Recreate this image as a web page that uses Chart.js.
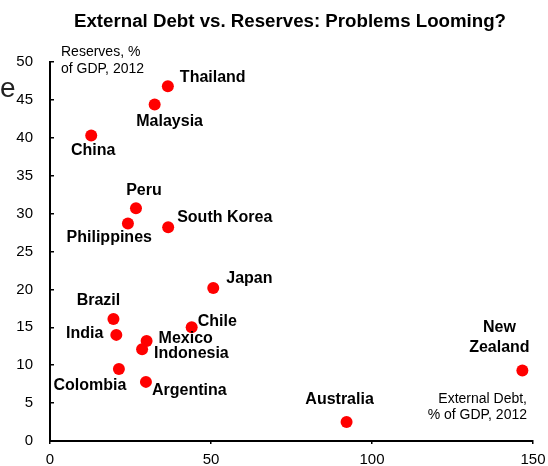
<!DOCTYPE html>
<html>
<head>
<meta charset="utf-8">
<script src="https://cdn.jsdelivr.net/npm/chart.js@4/dist/chart.umd.min.js"></script>
<style>
  html, body { margin: 0; padding: 0; background: #fff; }
  #wrap { width: 548px; height: 466px; }
</style>
</head>
<body>
<div id="wrap"><canvas id="debtChart" width="548" height="466"></canvas></div>
<script>
const countries = ['Thailand', 'Malaysia', 'China', 'Peru', 'Philippines', 'South Korea', 'Japan', 'Brazil',
    'India', 'Chile', 'Mexico', 'Indonesia', 'Colombia', 'Argentina', 'Australia', 'New Zealand'];
// external debt, % of GDP (x)
const extDebt = [36.6, 32.5, 12.8, 26.7, 24.2, 36.7, 50.7, 19.7, 20.6, 44.0, 30.0, 28.6, 21.4, 29.8, 92.1, 146.7];
// reserves, % of GDP (y)
const reserves = [46.8, 44.4, 40.3, 30.7, 28.7, 28.2, 20.2, 16.1, 14.0, 15.0, 13.2, 12.1, 9.5, 7.8, 2.5, 9.3];

const xTicks = [0, 50, 100, 150];
const yTicks = [0, 5, 10, 15, 20, 25, 30, 35, 40, 45, 50];

const titleText = 'External Debt vs. Reserves: Problems Looming?';
const yNote = ['Reserves, %', 'of GDP, 2012'];
const xNote = ['External Debt,', '% of GDP, 2012'];

// where each name sits next to its dot: [align, dx, dy]
const labelPos = [
    ['left', 12, -9], ['center', 15, 17], ['center', 2, 15], ['center', 8, -18],
    ['right', 24, 14], ['left', 9, -10], ['left', 13, -9], ['center', -15, -18],
    ['right', -13, -1], ['left', 6, -6], ['left', 12, -2], ['left', 12, 4],
    ['center', -29, 17], ['left', 6, 9], ['center', -7, -22], ['center', -23, -43]
];

const pts = extDebt.map((x, i) => ({ x: x, y: reserves[i] }));

// text drawn on top: title, axis notes, country names
const textPlugin = {
    id: 'texts',
    afterDraw(chart) {
        let ctx = chart.ctx;
        ctx.save();
        ctx.fillStyle = '#000';
        ctx.textBaseline = 'middle';

        ctx.font = 'bold 18.7px "Liberation Sans", Arial, sans-serif';
        ctx.textAlign = 'center';
        ctx.fillText(titleText, 290, 22);

        ctx.font = '14px "Liberation Sans", Arial, sans-serif';
        ctx.textAlign = 'left';
        ctx.fillText(yNote[0], 61, 52.5);
        ctx.fillText(yNote[1], 61, 69);
        ctx.textAlign = 'right';
        ctx.fillText(xNote[0], 527, 399);
        ctx.fillText(xNote[1], 527, 415.5);

        // leftover letter at the left edge
        ctx.fillStyle = '#222';
        ctx.font = '28px "Liberation Sans", Arial, sans-serif';
        ctx.textAlign = 'left';
        ctx.textBaseline = 'alphabetic';
        ctx.fillText('e', 0, 97);

        ctx.fillStyle = '#000';
        ctx.textBaseline = 'middle';
        ctx.font = 'bold 16px "Liberation Sans", Arial, sans-serif';
        let meta = chart.getDatasetMeta(0);
        meta.data.forEach((pt, i) => {
            let [align, dx, dy] = labelPos[i];
            ctx.textAlign = align;
            let name = countries[i];
            if (name === 'New Zealand') {
                ctx.fillText('New', pt.x + dx, pt.y + dy);
                ctx.fillText('Zealand', pt.x + dx, pt.y + dy + 20);
            } else {
                ctx.fillText(name, pt.x + dx, pt.y + dy);
            }
        });
        ctx.restore();
    }
};

const tickFont = { family: '"Liberation Sans", Arial, sans-serif', size: 15 };

// keep the label overhang from shrinking the plot area
const noPad = scale => {
    scale.paddingTop = 0;
    scale.paddingBottom = 0;
    scale.paddingLeft = 0;
    scale.paddingRight = 0;
};

let config = {
    type: 'scatter',
    data: {
        datasets: [{
            data: pts,
            backgroundColor: '#ff0000',
            borderWidth: 0,
            pointRadius: 6,
            pointHoverRadius: 6
        }]
    },
    options: {
        responsive: false,
        animation: false,
        events: [],
        layout: { padding: { top: 62, right: 15, left: 0, bottom: 0 } },
        plugins: { legend: { display: false }, tooltip: { enabled: false } },
        scales: {
            x: {
                type: 'linear',
                min: 0, max: 150,
                afterFit: scale => { scale.height = 25; noPad(scale); },
                afterBuildTicks: scale => { scale.ticks = xTicks.map(v => ({ value: v })); },
                border: { display: true, color: '#000', width: 2 },
                grid: { drawOnChartArea: false, drawTicks: true, tickLength: 3, color: '#000', lineWidth: 1.5 },
                ticks: { color: '#000', font: tickFont, padding: 7, maxRotation: 0 }
            },
            y: {
                type: 'linear',
                min: 0, max: 50,
                afterFit: scale => { scale.width = 50; noPad(scale); },
                afterBuildTicks: scale => { scale.ticks = yTicks.map(v => ({ value: v })); },
                border: { display: true, color: '#000', width: 2 },
                grid: { drawOnChartArea: false, drawTicks: true, tickLength: -4, color: '#000', lineWidth: 1.5 },
                ticks: { color: '#000', font: tickFont, padding: 21 }
            }
        }
    },
    plugins: [textPlugin]
};

let debtChart = new Chart(document.querySelector('#debtChart').getContext('2d'), config);
</script>
</body>
</html>
